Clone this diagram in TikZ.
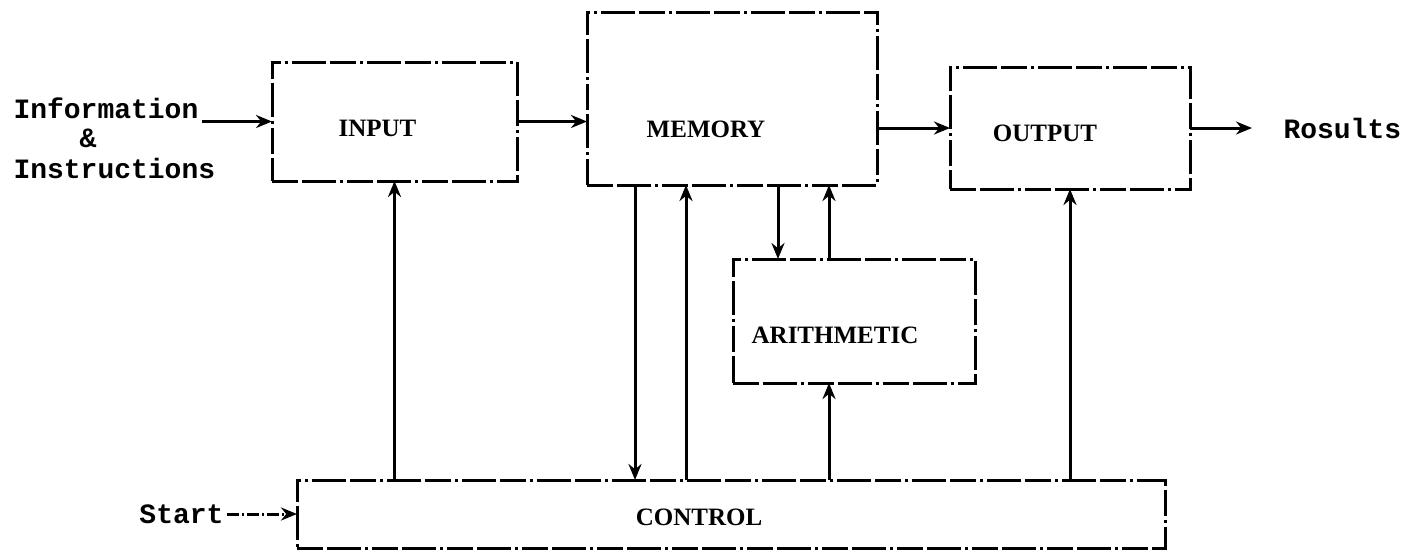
\documentclass[tikz,border=0pt]{standalone}
\usepackage{fontspec}
\setmainfont{Liberation Serif}
\setmonofont{Liberation Mono}
\usetikzlibrary{positioning,arrows.meta}

\begin{document}
\begin{tikzpicture}[
    x=1pt, y=-1pt,
    line width=3pt,
    >={Stealth[length=16pt,width=13pt]},
    unit/.style={draw, outer sep=0pt, inner sep=0pt,
        dash pattern=on 26pt off 4pt on 34pt off 4pt on 3pt off 4pt},
    tag/.style={font=\fontsize{25}{27}\selectfont\bfseries},
    side/.style={font=\fontsize{28}{30}\selectfont\ttfamily\bfseries, inner sep=2pt}
]
\useasboundingbox (0,0) rectangle (1405,558);

% Units
\node[unit, minimum width=245pt, minimum height=119pt,
    label={[tag, name=inputtext, shift={(-17,7)}]center:INPUT}] (input) at (394.5,121.5) {};
\node[unit, minimum width=290pt, minimum height=173pt,
    label={[tag, name=memorytext, shift={(-26,31)}]center:MEMORY}] (memory) at (732,98.5) {};
\node[unit, minimum width=240pt, minimum height=122pt,
    label={[tag, name=outputtext, shift={(-25,5)}]center:OUTPUT}] (output) at (1070,128) {};
\node[unit, minimum width=242pt, minimum height=124pt,
    label={[tag, name=arithtext, shift={(-19,14)}]center:ARITHMETIC}] (arith) at (854,321) {};
\node[unit, minimum width=868pt, minimum height=68pt,
    label={[tag, name=controltext, shift={(-32,3)}]center:CONTROL}] (control) at (731,514) {};

% Outside texts
\node[side, anchor=west] (info) at (10,108) {Information};
\node[side] (andsign) at (88,138) {\&};
\node[side, anchor=west] (instr) at (10,168) {Instructions};
\node[side] (results) [right=90pt of output] {Rosults};
\node[side] (start) [left=70pt of control] {Start};

% Points under memory
\coordinate (m1) at ([xshift=-97pt]memory.south);
\coordinate (m2) at ([xshift=-46pt]memory.south);
\coordinate (m3) at ([xshift=46pt]memory.south);
\coordinate (m4) at ([xshift=97pt]memory.south);

% Flow along the top
\draw[->] (info.east |- input.west) -- (input.west);
\draw[->] (input.east) -- (input.east -| memory.west);
\draw[->] (output.west -| memory.east) -- (output.west);
\draw[->, shorten >=28pt] (output.east) -- (output.east -| results.west);
\draw[->, dash pattern=on 12pt off 3pt on 2pt off 3pt] (start) -- (start -| control.west);

% Control lines
\draw[->] (control.north -| input.south) -- (input.south);
\draw[->] (m1) -- (m1 |- control.north);
\draw[->] (m2 |- control.north) -- (m2);
\draw[->] (m3) -- (m3 |- arith.north);
\draw[->] (m4 |- arith.north) -- (m4);
\draw[->] (m4 |- control.north) -- (m4 |- arith.south);
\draw[->] (control.north -| output.south) -- (output.south);

\end{tikzpicture}
\end{document}
